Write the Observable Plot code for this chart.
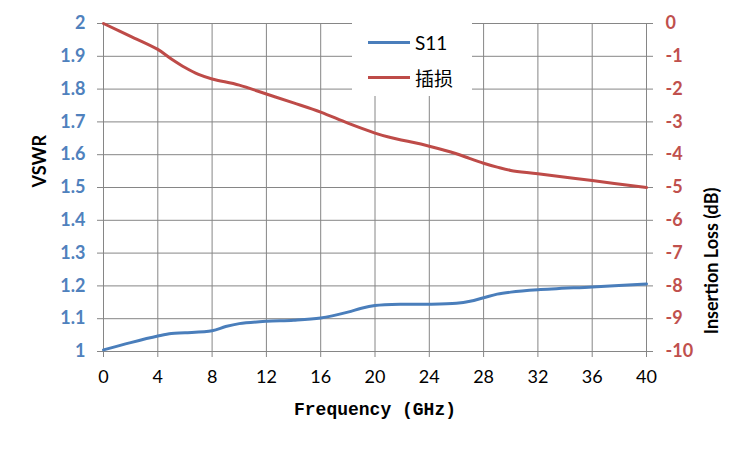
<!DOCTYPE html>
<html><head><meta charset="utf-8">
<script src="https://cdn.jsdelivr.net/npm/d3@7"></script>
<script src="https://cdn.jsdelivr.net/npm/@observablehq/plot@0.6"></script>
<style>
body{margin:0;background:#fff;}
#wrap{position:relative;width:750px;height:450px;overflow:hidden;}
#legend{position:absolute;left:352px;top:22px;width:120px;height:74px;background:#fff;}
#legend .row{position:absolute;left:16px;height:20px;display:flex;align-items:center;font-family:Lato,"Noto Sans CJK SC",sans-serif;font-size:19px;color:#000;}
#legend .sw{display:inline-block;width:42px;height:3px;margin-right:5px;}
</style></head><body><div id="wrap"></div>
<script>
const freqS11 = [0,2,4,5,6,8,9,10,12,14,16,18,19,20,22,24,26,27,28,29,30,32,36,40];
const vswr = [1.005,1.027,1.047,1.055,1.057,1.063,1.076,1.085,1.092,1.095,1.102,1.120,1.132,1.140,1.144,1.144,1.147,1.153,1.164,1.175,1.181,1.188,1.197,1.206];
const freqIL = [0,2,4,5,6,7,8,10,12,14,16,18,20,21,24,26,27,28,29,30,32,36,40];
const insertionLoss = [0,-0.39,-0.79,-1.08,-1.34,-1.55,-1.69,-1.88,-2.15,-2.42,-2.70,-3.04,-3.34,-3.46,-3.74,-3.97,-4.12,-4.26,-4.38,-4.48,-4.58,-4.79,-5.0];
const xTicks = [0,4,8,12,16,20,24,28,32,36,40];
const vswrTicks = [1,1.1,1.2,1.3,1.4,1.5,1.6,1.7,1.8,1.9,2];
const ilTicks = [0,-1,-2,-3,-4,-5,-6,-7,-8,-9,-10];
const seriesNames = ["S11","插损"];
const colors = ["#4A7EBB","#BE4B48"];

const toLeft = il => 2 + il/10;
const s11Data = freqS11.map((f,i)=>({f, v: vswr[i]}));
const ilData = freqIL.map((f,i)=>({f, v: toLeft(insertionLoss[i])}));
const grid = "#868686";
const tickFont = "Lato, 'Open Sans', sans-serif";

const chart = Plot.plot({
  width: 750, height: 450,
  marginLeft: 103, marginRight: 104, marginTop: 23, marginBottom: 99,
  x: {domain: [0,40]},
  y: {domain: [1,2]},
  marks: [
    Plot.ruleX(xTicks, {stroke: grid, strokeWidth: 1}),
    Plot.ruleY(vswrTicks, {stroke: grid, strokeWidth: 1}),
    Plot.axisX(xTicks, {tickSize: 6, tickPadding: 13, stroke: grid, fill: "#000", fontSize: 18, fontFamily: tickFont, label: null, tickFormat: d => String(d)}),
    Plot.axisY(vswrTicks, {anchor: "left", tickSize: 6, tickPadding: 12, stroke: grid, fill: "#4F81BD", fontSize: 18, fontWeight: "bold", fontFamily: tickFont, label: null, tickFormat: d => String(d)}),
    Plot.axisY(ilTicks.map(toLeft), {anchor: "right", tickSize: 6, tickPadding: 13, stroke: grid, fill: "#C0504D", fontSize: 18, fontWeight: "bold", fontFamily: tickFont, label: null, tickFormat: d => String(Math.round((d-2)*10))}),
    Plot.line(s11Data, {x: "f", y: "v", stroke: colors[0], strokeWidth: 3, curve: "catmull-rom"}),
    Plot.line(ilData, {x: "f", y: "v", stroke: colors[1], strokeWidth: 3, curve: "catmull-rom"}),
    Plot.text(["VSWR"], {frameAnchor: "left", dx: -63, rotate: -90, fontSize: 18, fontWeight: "bold", fontFamily: tickFont, fill: "#000"}),
    Plot.text(["Insertion Loss (dB)"], {frameAnchor: "right", dx: 66, rotate: -90, fontSize: 18, fontWeight: "bold", fontFamily: tickFont, fill: "#000"}),
    Plot.text(["Frequency (GHz)"], {frameAnchor: "bottom", dy: 63, fontSize: 18, fontWeight: "bold", fontFamily: "'Liberation Mono', monospace", fill: "#000"})
  ]
});
const wrap = document.getElementById("wrap");
wrap.appendChild(chart);
const legend = document.createElement("div");
legend.id = "legend";
legend.innerHTML = seriesNames.map((n,i)=>`<div class="row" style="top:${i===0?10:45}px"><span class="sw" style="background:${colors[i]}"></span><span>${n}</span></div>`).join("");
wrap.appendChild(legend);
</script>
</body></html>
